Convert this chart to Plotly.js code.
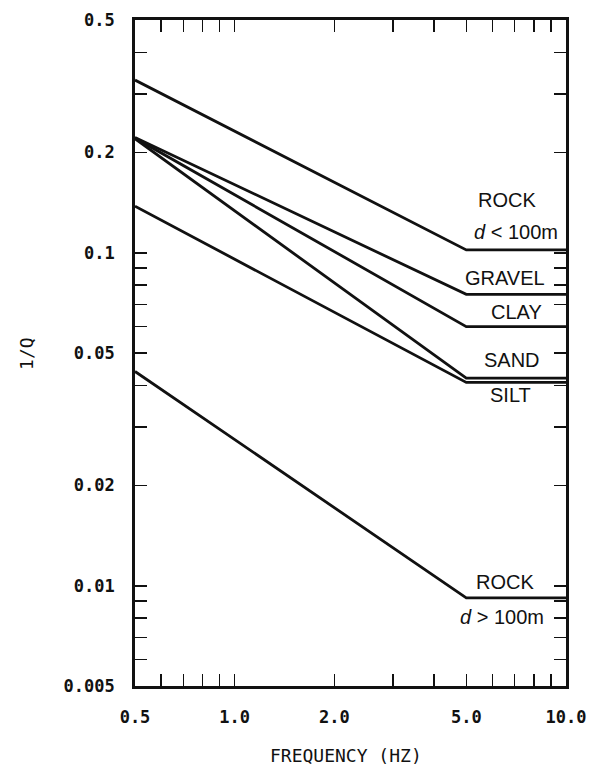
<!DOCTYPE html>
<html>
<head>
<meta charset="utf-8">
<script src="https://cdn.plot.ly/plotly-3.0.1.min.js"></script>
<style>html,body{margin:0;padding:0;background:#fff;}#chart{width:590px;height:768px;}</style>
</head>
<body>
<div id="chart"></div>
<script>
// Frequency (Hz) break points
var freq = [0.5, 5, 10];
// 1/Q values per material
var rockShallow = [0.33, 0.102, 0.102];
var gravel = [0.222, 0.075, 0.075];
var clay = [0.221, 0.06, 0.06];
var sand = [0.22, 0.042, 0.042];
var silt = [0.138, 0.0408, 0.0408];
var rockDeep = [0.044, 0.0092, 0.0092];

var xTickVals = [0.5, 0.6, 0.7, 0.8, 0.9, 1, 2, 3, 4, 5, 6, 7, 8, 9, 10];
var xTickText = ['0.5', '', '', '', '', '1.0', '2.0', '', '', '5.0', '', '', '', '', '10.0'];
var yTickVals = [0.005, 0.006, 0.007, 0.008, 0.009, 0.01, 0.02, 0.03, 0.04, 0.05, 0.06, 0.07, 0.08, 0.09, 0.1, 0.2, 0.3, 0.4, 0.5];
var yTickText = ['0.005', '', '', '', '', '0.01', '0.02', '', '', '0.05', '', '', '', '', '0.1', '0.2', '', '', '0.5'];

var series = [rockShallow, gravel, clay, sand, silt, rockDeep];
var names = ['ROCK d<100m', 'GRAVEL', 'CLAY', 'SAND', 'SILT', 'ROCK d>100m'];

var traces = series.map(function (s, i) {
  return {
    x: freq, y: s, name: names[i], type: 'scatter', mode: 'lines',
    line: {color: '#111', width: 2.8}, showlegend: false, hoverinfo: 'skip'
  };
});

var tickFont = {family: 'DejaVu Sans Mono', size: 17, color: '#111', weight: 'bold'};
var titleFont = {family: 'DejaVu Sans Mono', size: 18, color: '#111'};
var labFont = {family: 'Liberation Sans', size: 20, color: '#111'};

function lab(text, x, y) {
  return {text: text, xref: 'paper', yref: 'paper', x: x, y: y, showarrow: false,
    xanchor: 'center', yanchor: 'middle', font: labFont};
}

var layout = {
  width: 590, height: 768,
  margin: {l: 135, r: 24, t: 20, b: 82},
  paper_bgcolor: '#fff', plot_bgcolor: '#fff',
  showlegend: false,
  xaxis: {
    type: 'log', range: [Math.log10(0.5), Math.log10(10)],
    tickmode: 'array', tickvals: xTickVals, ticktext: xTickText,
    ticks: 'inside', ticklen: 12, tickwidth: 1.5, tickcolor: '#111',
    showline: true, linewidth: 2.8, linecolor: '#111', mirror: 'ticks',
    showgrid: false, zeroline: false, tickfont: tickFont, ticklabelstandoff: 14
  },
  yaxis: {
    type: 'log', range: [Math.log10(0.005), Math.log10(0.5)],
    tickmode: 'array', tickvals: yTickVals, ticktext: yTickText,
    ticks: 'inside', ticklen: 12, tickwidth: 1.5, tickcolor: '#111',
    showline: true, linewidth: 2.8, linecolor: '#111', mirror: 'ticks',
    showgrid: false, zeroline: false, tickfont: tickFont, ticklabelstandoff: 14
  },
  annotations: [
    lab('ROCK', 0.863, 0.730),
    lab('<i>d</i> &lt; 100m', 0.884, 0.682),
    lab('GRAVEL', 0.858, 0.613),
    lab('CLAY', 0.886, 0.562),
    lab('SAND', 0.875, 0.489),
    lab('SILT', 0.872, 0.437),
    lab('ROCK', 0.858, 0.156),
    lab('<i>d</i> &gt; 100m', 0.852, 0.104),
    {text: '1/Q', xref: 'paper', yref: 'paper', x: -0.253, y: 0.50, showarrow: false,
      textangle: -90, xanchor: 'center', yanchor: 'middle', font: titleFont},
    {text: 'FREQUENCY (HZ)', xref: 'paper', yref: 'paper', x: 0.49, y: -0.104, showarrow: false,
      xanchor: 'center', yanchor: 'middle', font: titleFont}
  ]
};

Plotly.newPlot('chart', traces, layout, {staticPlot: true, displayModeBar: false});
</script>
</body>
</html>
